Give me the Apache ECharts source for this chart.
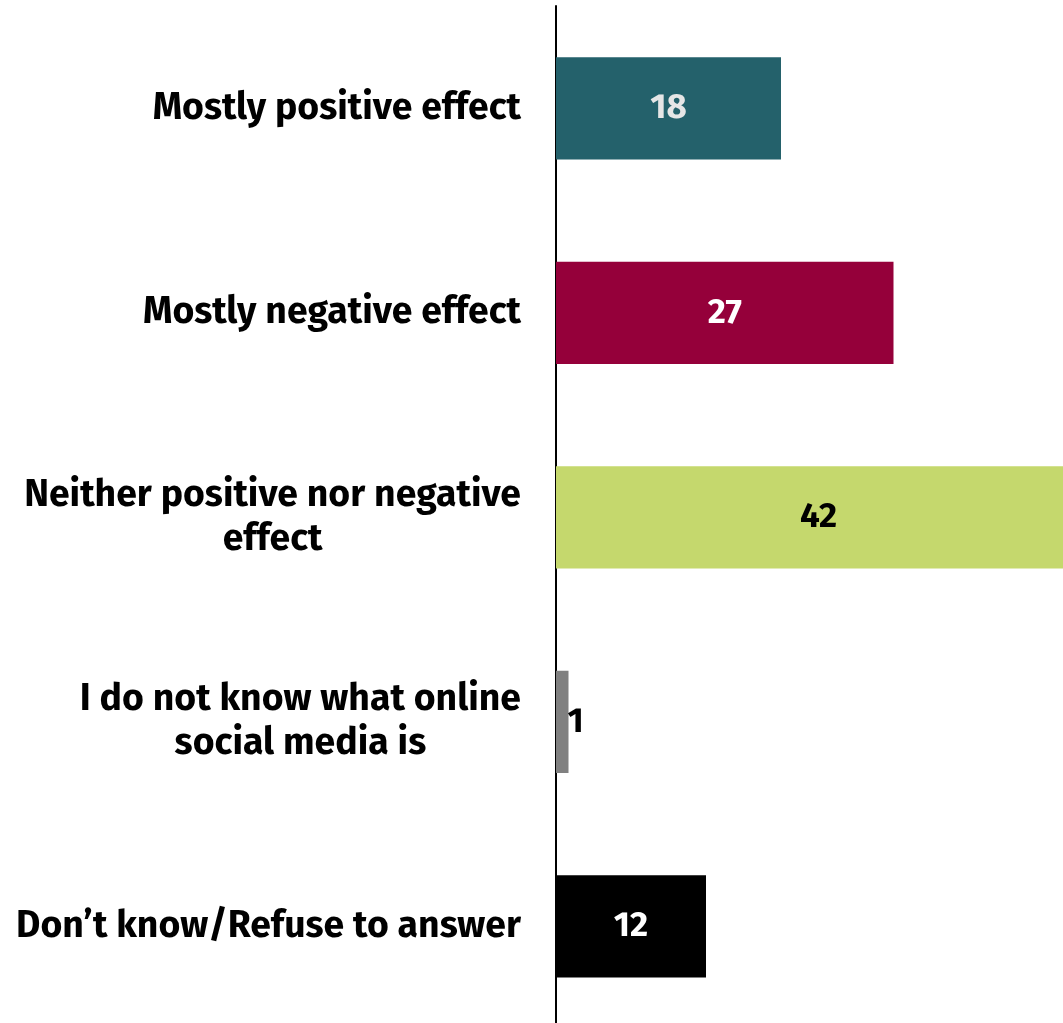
<!DOCTYPE html>
<html><head><meta charset="utf-8">
<script src="https://cdn.jsdelivr.net/npm/echarts@6/dist/echarts.min.js"></script>
<style>html,body{margin:0;padding:0;background:#fff}#c{width:1063px;height:1023px}</style>
</head><body><div id="c"></div>
<script>
const categories = [
  "Mostly positive effect",
  "Mostly negative effect",
  "Neither positive nor negative\neffect",
  "I do not know what online\nsocial media is",
  "Don\u2019t know/Refuse to answer"
];
const values = [18, 27, 42, 1, 12];
const barColors = ["#24616B", "#95003A", "#C5D86D", "#808080", "#000000"];
const labelColors = ["#E6E6E6", "#FFFFFF", "#000000", "#000000", "#FFFFFF"];

const FONT = "'Fira Sans', Lato, 'Open Sans', sans-serif";
const chart = echarts.init(document.getElementById('c'), null, {renderer: 'canvas'});
chart.setOption({
  animation: false,
  grid: {left: 556, width: 525, top: 6, height: 1022.5, containLabel: false, outerBoundsMode: 'none'},
  xAxis: {type: 'value', min: 0, max: 42, show: false},
  yAxis: {
    type: 'category', inverse: true, data: categories,
    axisLine: {show: true, lineStyle: {color: '#000', width: 2}},
    axisTick: {show: false},
    splitLine: {show: false},
    axisLabel: {
      margin: 35, align: 'right',
      formatter: v => v.split('\n').map(l => '{c|' + l + '}').join('\n'),
      rich: {c: {align: 'center', fontFamily: FONT, fontWeight: 'bold', fontSize: 37.4, color: '#000', lineHeight: 44}}
    }
  },
  series: [{
    type: 'bar', barWidth: '50%',
    data: values.map((v, i) => ({
      value: v,
      itemStyle: {color: barColors[i]},
      label: i === 3 ? {position: 'right', distance: -1, color: labelColors[i]} : {position: 'inside', color: labelColors[i]}
    })),
    label: {show: true, fontFamily: FONT, fontWeight: 'bold', fontSize: 35}
  }]
});
</script></body></html>
